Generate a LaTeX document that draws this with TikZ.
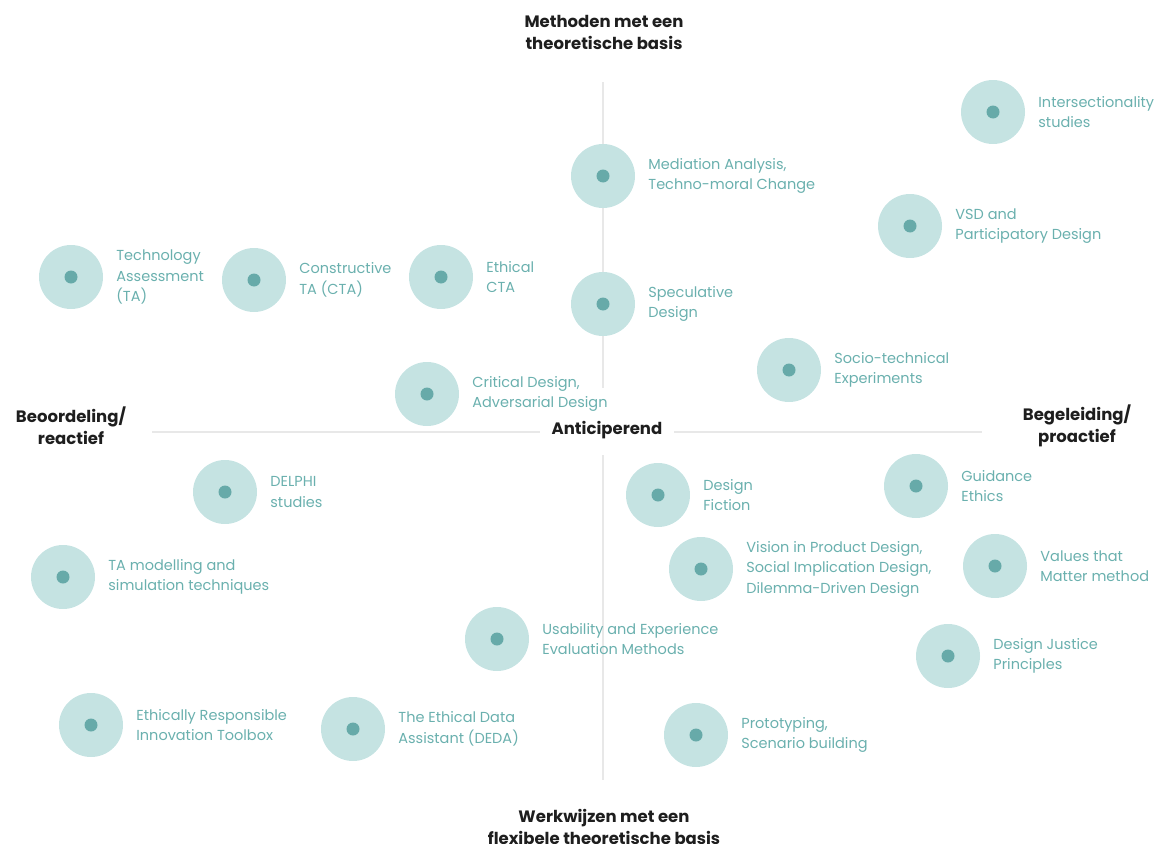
\documentclass[tikz,border=0pt]{standalone}
\usepackage{fontspec}
\setmainfont{Poppins}
\usetikzlibrary{positioning}
\definecolor{ring}{HTML}{C5E3E2}
\definecolor{dotc}{HTML}{67AAA9}
\definecolor{labc}{HTML}{6AB0AE}
\definecolor{axisc}{HTML}{E8E8E8}
\definecolor{headc}{HTML}{1E1E1E}
\tikzset{
  method/.style = {circle, minimum size=64pt, inner sep=0pt, fill=ring,
    path picture={\fill[dotc] (path picture bounding box.center) circle (6.5pt);}},
  methodtext/.style = {align=left, text=labc, inner sep=0pt,
    font=\fontsize{14.5}{20.5}\selectfont},
  heading/.style = {align=center, text=headc, inner sep=0pt,
    font=\fontsize{16.5}{22}\selectfont\bfseries},
  axis/.style = {draw=axisc, line width=1.5pt}
}
\begin{document}
\begin{tikzpicture}[x=1pt,y=-1pt,node distance=13pt]
	\useasboundingbox (0,0) rectangle (1164,843);
	% assen
	\coordinate (vtop) at (603,82);
	\coordinate (vmid1) at (603,388);
	\coordinate (vmid2) at (603,455);
	\coordinate (vbot) at (603,780);
	\coordinate (hleft) at (152,432);
	\coordinate (hmid1) at (540,432);
	\coordinate (hmid2) at (674,432);
	\coordinate (hright) at (982,432);
	\draw [axis] (vtop) -- (vmid1);
	\draw [axis] (vmid2) -- (vbot);
	\draw [axis] (hleft) -- (hmid1);
	\draw [axis] (hmid2) -- (hright);
	\node (TOP) [heading] at (604,32) {Methoden met een\\theoretische basis};
	\node (BOT) [heading] at (604,827) {Werkwijzen met een\\flexibele theoretische basis};
	\node (LEFT) [heading] at (71,426) {Beoordeling/\\reactief};
	\node (RIGHT) [heading] at (1077,426) {Begeleiding/\\proactief};
	\node (ANT) [heading] at (607,430) {Anticiperend};
	% methoden
	\node (IS) [method] at (993,112) {};
	\node [methodtext, right=of IS] {Intersectionality\\studies};
	\node (MA) [method] at (603,176) {};
	\node [methodtext, right=of MA] {Mediation Analysis,\\Techno-moral Change};
	\node (VSD) [method] at (910,226) {};
	\node [methodtext, right=of VSD] {VSD and\\Participatory Design};
	\node (TA) [method] at (71,277) {};
	\node [methodtext, right=of TA] {Technology\\Assessment\\(TA)};
	\node (CTA) [method] at (254,280) {};
	\node [methodtext, right=of CTA] {Constructive\\TA (CTA)};
	\node (ECTA) [method] at (441,277) {};
	\node [methodtext, right=of ECTA] {Ethical\\CTA};
	\node (SD) [method] at (603,304) {};
	\node [methodtext, right=of SD] {Speculative\\Design};
	\node (STE) [method] at (789,370) {};
	\node [methodtext, right=of STE] {Socio-technical\\Experiments};
	\node (CD) [method] at (427,394) {};
	\node [methodtext, right=of CD] {Critical Design,\\Adversarial Design};
	\node (DEL) [method] at (225,492) {};
	\node [methodtext, right=of DEL] {DELPHI\\studies};
	\node (DF) [method] at (658,495) {};
	\node [methodtext, right=of DF] {Design\\Fiction};
	\node (GE) [method] at (916,486) {};
	\node [methodtext, right=of GE] {Guidance\\Ethics};
	\node (TAM) [method] at (63,577) {};
	\node [methodtext, right=of TAM] {TA modelling and\\simulation techniques};
	\node (VPD) [method] at (701,569) {};
	\node [methodtext, right=of VPD] {Vision in Product Design,\\Social Implication Design,\\Dilemma-Driven Design};
	\node (VTM) [method] at (995,566) {};
	\node [methodtext, right=of VTM] {Values that\\Matter method};
	\node (UEE) [method] at (497,639) {};
	\node [methodtext, right=of UEE] {Usability and Experience\\Evaluation Methods};
	\node (DJP) [method] at (948,656) {};
	\node [methodtext, right=of DJP] {Design Justice\\Principles};
	\node (ERI) [method] at (91,725) {};
	\node [methodtext, right=of ERI] {Ethically Responsible\\Innovation Toolbox};
	\node (DEDA) [method] at (353,729) {};
	\node [methodtext, right=of DEDA] {The Ethical Data\\Assistant (DEDA)};
	\node (PSB) [method] at (696,735) {};
	\node [methodtext, right=of PSB] {Prototyping,\\Scenario building};
\end{tikzpicture}
\end{document}
